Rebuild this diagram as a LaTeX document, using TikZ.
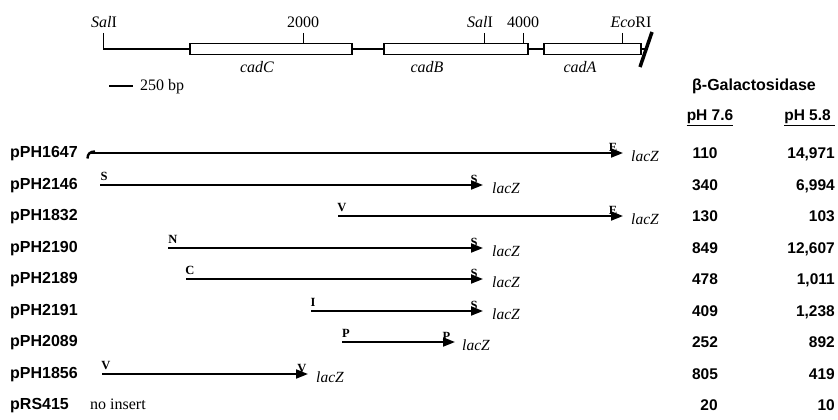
\documentclass[tikz,border=0pt]{standalone}
\usepackage{fontspec}
\setmainfont{Liberation Serif}
\setsansfont{Liberation Sans}
\usetikzlibrary{arrows.meta}
\tikzset{
  plabel/.style={font=\sffamily\bfseries\fontsize{16}{18}\selectfont, anchor=base west, inner sep=0pt},
  numval/.style={font=\sffamily\bfseries\fontsize{15.5}{17}\selectfont, anchor=base, inner sep=0pt},
  numright/.style={numval, anchor=base east},
  sitelbl/.style={font=\bfseries\fontsize{12.5}{14}\selectfont, anchor=base, inner sep=0pt},
  lacz/.style={font=\itshape\fontsize{15.5}{17}\selectfont, anchor=base west, inner sep=0pt},
  fragment/.style={line width=1.8pt, -{Triangle[length=12pt,width=9pt]}},
  genebox/.style={draw, line width=1.3pt, fill=white, minimum height=11.6pt, inner sep=0pt},
  maptext/.style={font=\fontsize{16}{18}\selectfont, anchor=base, inner sep=0pt},
  genename/.style={font=\itshape\fontsize{16}{18}\selectfont, anchor=base, inner sep=0pt},
  tick/.style={line width=1pt},
}
\begin{document}
\begin{tikzpicture}[x=1pt,y=-1pt]
\useasboundingbox (0,0) rectangle (838,420);

% ---- restriction map of the cad region ----
\coordinate (mapL) at (103,49);
\coordinate (mapR) at (646,49);
\draw[line width=2.8pt] (mapL) -- (mapR);
\node[genebox, minimum width=162pt] (cadC) at (271,49) {};
\node[genebox, minimum width=144pt] (cadB) at (456,49) {};
\node[genebox, minimum width=97pt]  (cadA) at (592.5,49) {};
\node[genename] (tC) at (257,73) {cadC};
\node[genename] (tB) at (427,73) {cadB};
\node[genename] (tA) at (580,73) {cadA};

% ticks with their labels
\coordinate (k1a) at (103,33);  \draw[tick] (k1a) -- (mapL);
\node[maptext] (sal1) at (104,28) {\textit{Sal}I};
\coordinate (k2a) at (303,33);  \coordinate (k2b) at (303,43.2); \draw[tick] (k2a) -- (k2b);
\node[maptext] (m2000) at (303,28) {2000};
\coordinate (k3a) at (484,33);  \coordinate (k3b) at (484,43.2); \draw[tick] (k3a) -- (k3b);
\node[maptext] (sal2) at (480,28) {\textit{Sal}I};
\coordinate (k4a) at (523,33);  \coordinate (k4b) at (523,43.2); \draw[tick] (k4a) -- (k4b);
\node[maptext] (m4000) at (523,28) {4000};
\coordinate (k5a) at (622,33);  \coordinate (k5b) at (622,43.2); \draw[tick] (k5a) -- (k5b);
\node[maptext] (eco) at (631,28) {\textit{Eco}RI};

% end of the cloned region
\coordinate (cutT) at (652,32);
\coordinate (cutB) at (640,67);
\draw[line width=3.5pt] (cutT) -- (cutB);

% scale bar
\coordinate (sbL) at (109,86);
\coordinate (sbR) at (133,86);
\draw[line width=1.5pt] (sbL) -- (sbR);
\node[maptext, anchor=base west] (sbT) at (140,91) {250 bp};

% ---- table header ----
\node[plabel, anchor=base] (hdr) at (754,91) {β-Galactosidase};
\node[plabel, anchor=base, font=\sffamily\bfseries\fontsize{15.5}{17}\selectfont] (ph1) at (710,121) {pH 7.6};
\node[plabel, anchor=base east, font=\sffamily\bfseries\fontsize{15.5}{17}\selectfont] (ph2) at (831,121) {pH 5.8};
\draw[line width=1pt] ([yshift=-4pt]ph1.base west) -- ([yshift=-4pt]ph1.base east);
\draw[line width=1pt] ([yshift=-4pt]ph2.base west) -- ([yshift=-4pt,xshift=4pt]ph2.base east);

% ---- fusion constructs ----
% pPH1647
\node[plabel] (r1) at (10,157.5) {pPH1647};
\coordinate (a1) at (90,153); \coordinate (b1) at (623,153);
\draw[fragment] (a1) -- (b1);
\draw[line width=2.4pt] (87.5,158.5) .. controls (87.5,154) and (90,151.5) .. (95,151.5);
\node[sitelbl] (e1) at (613,151) {E};
\node[lacz] (z1) at (631,161.5) {lacZ};
\node[numval] (v1a) at (705,158.5) {110};
\node[numright] (v1b) at (835,158.5) {14,971};

% pPH2146
\node[plabel] (r2) at (10,189.5) {pPH2146};
\coordinate (a2) at (100,185); \coordinate (b2) at (483,185);
\draw[fragment] (a2) -- (b2);
\node[sitelbl] (s2a) at (104,180.5) {S};
\node[sitelbl] (s2b) at (474,183) {S};
\node[lacz] (z2) at (492,193.5) {lacZ};
\node[numval] (v2a) at (705,190.5) {340};
\node[numright] (v2b) at (835,190.5) {6,994};

% pPH1832
\node[plabel] (r3) at (10,220.5) {pPH1832};
\coordinate (a3) at (338,216); \coordinate (b3) at (623,216);
\draw[fragment] (a3) -- (b3);
\node[sitelbl] (s3a) at (342,211.5) {V};
\node[sitelbl] (s3b) at (613,214) {E};
\node[lacz] (z3) at (631,224.5) {lacZ};
\node[numval] (v3a) at (705,221.5) {130};
\node[numright] (v3b) at (835,221.5) {103};

% pPH2190
\node[plabel] (r4) at (10,252.5) {pPH2190};
\coordinate (a4) at (168,248); \coordinate (b4) at (483,248);
\draw[fragment] (a4) -- (b4);
\node[sitelbl] (s4a) at (173,243.5) {N};
\node[sitelbl] (s4b) at (474,246) {S};
\node[lacz] (z4) at (492,256.5) {lacZ};
\node[numval] (v4a) at (705,253.5) {849};
\node[numright] (v4b) at (835,253.5) {12,607};

% pPH2189
\node[plabel] (r5) at (10,283.5) {pPH2189};
\coordinate (a5) at (186,279); \coordinate (b5) at (483,279);
\draw[fragment] (a5) -- (b5);
\node[sitelbl] (s5a) at (190,274.5) {C};
\node[sitelbl] (s5b) at (474,277) {S};
\node[lacz] (z5) at (492,287.5) {lacZ};
\node[numval] (v5a) at (705,284.5) {478};
\node[numright] (v5b) at (835,284.5) {1,011};

% pPH2191
\node[plabel] (r6) at (10,315.5) {pPH2191};
\coordinate (a6) at (311,311); \coordinate (b6) at (483,311);
\draw[fragment] (a6) -- (b6);
\node[sitelbl] (s6a) at (313,306.5) {I};
\node[sitelbl] (s6b) at (474,309) {S};
\node[lacz] (z6) at (492,319.5) {lacZ};
\node[numval] (v6a) at (705,316.5) {409};
\node[numright] (v6b) at (835,316.5) {1,238};

% pPH2089
\node[plabel] (r7) at (10,346.5) {pPH2089};
\coordinate (a7) at (342,342); \coordinate (b7) at (455,342);
\draw[fragment] (a7) -- (b7);
\node[sitelbl] (s7a) at (346,337.5) {P};
\node[sitelbl] (s7b) at (446.5,340) {P};
\node[lacz] (z7) at (462,350.5) {lacZ};
\node[numval] (v7a) at (705,347.5) {252};
\node[numright] (v7b) at (835,347.5) {892};

% pPH1856
\node[plabel] (r8) at (10,378.5) {pPH1856};
\coordinate (a8) at (102,374); \coordinate (b8) at (308,374);
\draw[fragment] (a8) -- (b8);
\node[sitelbl] (s8a) at (106,369.5) {V};
\node[sitelbl] (s8b) at (302,372) {V};
\node[lacz] (z8) at (316,382.5) {lacZ};
\node[numval] (v8a) at (705,379.5) {805};
\node[numright] (v8b) at (835,379.5) {419};

% pRS415 (vector only)
\node[plabel] (r9) at (10,409.5) {pRS415};
\node[maptext, anchor=base west] (ni) at (90,409.5) {no insert};
\node[numval] (v9a) at (709,410.5) {20};
\node[numright] (v9b) at (835,410.5) {10};
\end{tikzpicture}
\end{document}
